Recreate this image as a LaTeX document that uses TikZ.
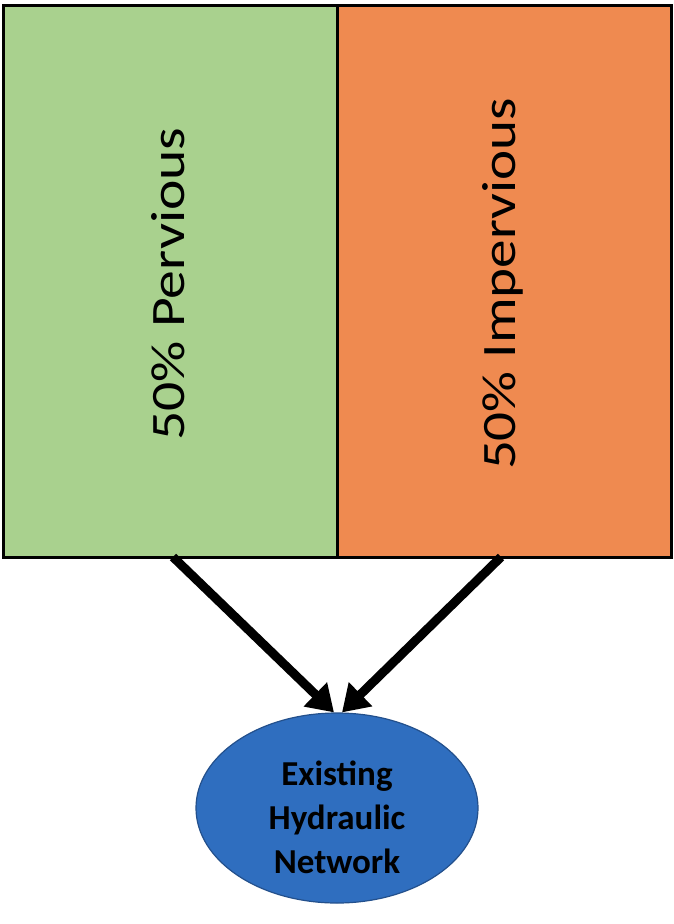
\documentclass[tikz,border=0pt]{standalone}
\usepackage{fontspec}
\setmainfont{Carlito}
\usetikzlibrary{shapes.geometric,arrows.meta}
\definecolor{pgreen}{HTML}{A9D18E}
\definecolor{porange}{HTML}{EF8A50}
\definecolor{pblue}{HTML}{2F6EBF}
\definecolor{pblueb}{HTML}{23508C}
\tikzset{
  half/.style={draw=black, line width=3pt, minimum width=334pt, minimum height=552pt, inner sep=0pt, outer sep=0pt},
  lab/.style={rotate=90, font=\fontsize{48}{56}\selectfont},
  flow/.style={line width=9pt, -{Triangle[length=26pt,width=32pt]}},
  net/.style={ellipse, draw=pblueb, line width=1.2pt, fill=pblue, minimum width=282pt, minimum height=190pt, inner sep=0pt},
  netlab/.style={align=center, font=\fontsize{35}{44}\selectfont\bfseries}
}
\begin{document}
\begin{tikzpicture}[x=1pt,y=-1pt]
\useasboundingbox (0,0) rectangle (674,924);
\node[half, fill=pgreen, anchor=north west] (perv) at (3,5) {};
\node[half, fill=porange, anchor=north west] (imperv) at (337,5) {};
\node[lab] (pervlab) at (168,284) {\scalebox{1.2}[1]{50\% Pervious}};
\node[lab] (impervlab) at (503,284) {\scalebox{1.19}[1]{50\% Impervious}};
\node[net] (hyd) at (337,808) {};
\node[netlab] (hydlab) at ([yshift=-9pt]hyd.center) {Existing\\Hydraulic\\Network};
\draw[flow] (perv.south) ++(3,0) -- ([xshift=-3pt]hyd.north);
\draw[flow] (imperv.south) ++(-3,0) -- ([xshift=5pt]hyd.north);
\end{tikzpicture}
\end{document}
